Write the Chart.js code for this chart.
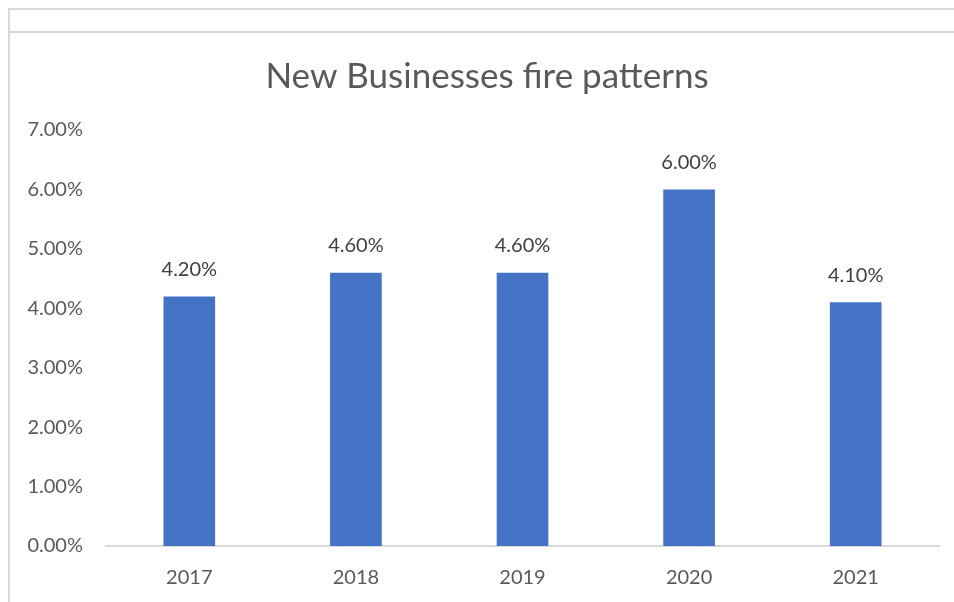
<!DOCTYPE html>
<html>
<head>
<meta charset="utf-8">
<script src="https://cdn.jsdelivr.net/npm/chart.js@4/dist/chart.umd.min.js"></script>
<style>
  html, body { margin: 0; padding: 0; background: #fff; }
  body { width: 954px; height: 602px; position: relative; overflow: hidden; }
  .frame-top { position: absolute; left: 8px; top: 8px; right: 0; height: 2px; background: #d9d9d9; }
  .frame-bar { position: absolute; left: 8px; top: 31px; right: 0; height: 2px; background: #d9d9d9; }
  .frame-left { position: absolute; left: 8px; top: 8px; bottom: 0; width: 2px; background: #d9d9d9; }
  #wrap { position: absolute; left: 10px; top: 34px; width: 954px; height: 576px; }
</style>
</head>
<body>
<div class="frame-top"></div>
<div class="frame-bar"></div>
<div class="frame-left"></div>
<div id="wrap"><canvas id="chart" width="954" height="576"></canvas></div>
<script>
const years = ['2017', '2018', '2019', '2020', '2021'];
const rates = [4.2, 4.6, 4.6, 6.0, 4.1];
const yTicks = [0, 1, 2, 3, 4, 5, 6, 7];

const FONT = 'Lato, "Open Sans", sans-serif';

// Writes each bar's percentage just above it
const valueLabels = {
  id: 'valueLabels',
  afterDatasetsDraw(chart) {
    const ctx = chart.ctx;
    const meta = chart.getDatasetMeta(0);
    ctx.save();
    ctx.font = '20px ' + FONT;
    ctx.fillStyle = '#404040';
    ctx.textAlign = 'center';
    ctx.textBaseline = 'middle';
    meta.data.forEach((bar, i) => {
      ctx.fillText(rates[i].toFixed(2) + '%', bar.x, bar.y - 27);
    });
    ctx.restore();
  }
};

new Chart(document.getElementById('chart'), {
  type: 'bar',
  data: {
    labels: years,
    datasets: [{
      data: rates,
      backgroundColor: '#4472C4',
      barPercentage: 0.31,
      categoryPercentage: 1.0,
      yAxisID: 'y'
    }]
  },
  options: {
    responsive: false,
    animation: false,
    devicePixelRatio: 1,
    layout: { padding: { left: 0, right: 0, top: 0, bottom: 0 } },
    plugins: {
      legend: { display: false },
      tooltip: { enabled: false },
      title: {
        display: true,
        text: 'New Businesses fire patterns',
        color: '#595959',
        font: { family: FONT, size: 35, weight: 'normal' },
        padding: { top: 22, bottom: 32 }
      }
    },
    scales: {
      x: {
        grid: { display: false, drawTicks: false },
        border: { display: true, color: '#d9d9d9', width: 2 },
        ticks: { color: '#595959', font: { family: FONT, size: 20 }, padding: 20 }
      },
      y: {
        min: 0,
        max: 7,
        afterBuildTicks(scale) { scale.ticks = yTicks.map(v => ({ value: v })); },
        afterFit(scale) { scale.width = 96; },
        grid: { display: false, drawTicks: false },
        border: { display: false },
        ticks: {
          color: '#595959',
          font: { family: FONT, size: 20 },
          padding: 23,
          callback: v => v.toFixed(2) + '%'
        }
      },
      // empty right-hand margin axis
      yRight: {
        position: 'right',
        afterFit(scale) { scale.width = 25; },
        grid: { display: false, drawTicks: false },
        border: { display: false },
        ticks: { display: false }
      }
    }
  },
  plugins: [valueLabels]
});
</script>
</body>
</html>
